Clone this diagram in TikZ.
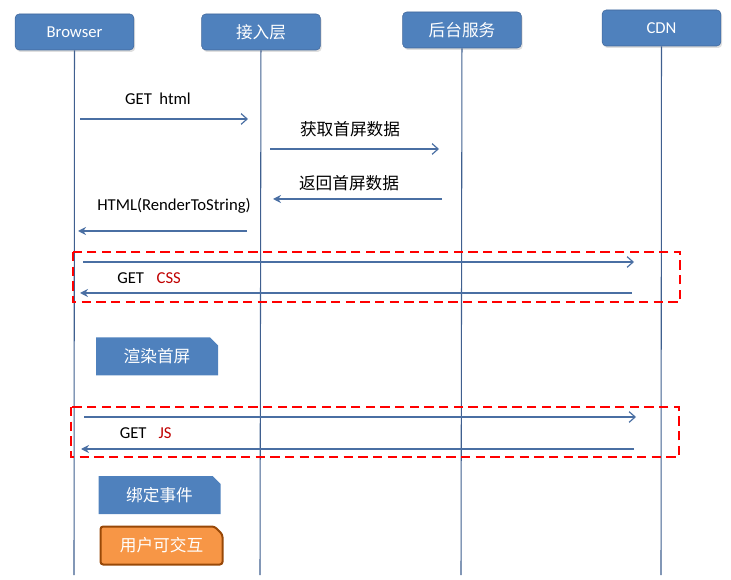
\documentclass[tikz,border=0pt]{standalone}
\usepackage{fontspec}
\setmainfont{Carlito}
\newfontfamily\cjk{Noto Sans CJK SC}
\usepackage{tikz}
\usetikzlibrary{arrows.meta,shapes.misc,shadows}
\definecolor{headblue}{HTML}{4F81BD}
\definecolor{headline}{HTML}{41679A}
\definecolor{lifeblue}{HTML}{3F5F8F}
\definecolor{msgblue}{HTML}{4A6FA3}
\definecolor{actorange}{HTML}{F79646}
\definecolor{actbrown}{HTML}{984807}
\definecolor{resred}{HTML}{C00000}

\begin{document}
    \begin{tikzpicture}[x=0.75pt,y=-0.75pt,
        every node/.style={font=\fontsize{12.5}{15}\selectfont},
        actor/.style={draw=headline,fill=headblue,text=white,rounded corners=3pt,
            minimum width=89pt,minimum height=27pt,inner sep=0pt,
            drop shadow={opacity=0.25,shadow xshift=1pt,shadow yshift=-1.5pt}},
        lifeline/.style={draw=lifeblue,line width=0.8pt},
        callmsg/.style={draw=msgblue,line width=0.9pt,-{Straight Barb[length=4.5pt,width=8pt]}},
        backmsg/.style={draw=msgblue,line width=0.9pt,-{Stealth[length=6pt,width=6pt]}},
        fetchbox/.style={draw=red,dash pattern=on 7pt off 4pt,line width=1.1pt},
        stepnote/.style={chamfered rectangle,chamfered rectangle corners=north east,
            chamfered rectangle xsep=3pt,chamfered rectangle ysep=3pt,
            fill=headblue,text=white,minimum width=91.5pt,minimum height=28.5pt,inner sep=0pt},
        donenote/.style={stepnote,fill=actorange,draw=actbrown,line width=1.5pt,rounded corners=2pt}]
        \useasboundingbox (0,0) rectangle (731,580);
        \node[actor] (browser) at (74.5,32) {Browser};
        \node[actor] (access) at (261,32) {\cjk 接入层};
        \node[actor] (backend) at (462,30) {\cjk 后台服务};
        \node[actor] (cdn) at (661.5,28) {CDN};
        \coordinate (browserend) at (74,575);
        \coordinate (accessend) at (260,575);
        \coordinate (backendend) at (461,575);
        \coordinate (cdnend) at (661,575);
        \draw[lifeline] (browser) -- (browserend);
        \draw[lifeline] (access) -- (accessend);
        \draw[lifeline] (backend) -- (backendend);
        \draw[lifeline] (cdn) -- (cdnend);
        \coordinate (htmlout) at (80,119);
        \coordinate (htmlin) at (248,119);
        \draw[callmsg] (htmlout) -- (htmlin);
        \node (htmltxt) at (158,99) {GET\ \ html};
        \coordinate (dataout) at (270,149);
        \coordinate (datain) at (439,149);
        \draw[callmsg] (dataout) -- (datain);
        \node (datatxt) at (350,129) {\cjk 获取首屏数据};
        \coordinate (databack) at (442,199);
        \coordinate (datagot) at (273,199);
        \draw[backmsg] (databack) -- (datagot);
        \node (backtxt) at (349,183) {\cjk 返回首屏数据};
        \coordinate (pageback) at (247,231);
        \coordinate (pagegot) at (78,231);
        \draw[backmsg] (pageback) -- (pagegot);
        \node (pagetxt) at (174,206) {HTML(RenderToString)};
        \draw[fetchbox] (73,252) rectangle (680,302);
        \coordinate (cssout) at (83,262);
        \coordinate (cssin) at (634,262);
        \coordinate (cssback) at (632,293);
        \coordinate (cssgot) at (80,293);
        \draw[callmsg] (cssout) -- (cssin);
        \draw[backmsg] (cssback) -- (cssgot);
        \node[anchor=west,inner sep=0pt] (csstxt) at (117,278) {GET\hspace{9.5pt}\textcolor{resred}{CSS}};
        \node[stepnote] (render) at (157,356.5) {\cjk 渲染首屏};
        \draw[fetchbox] (71,407) rectangle (679,457);
        \coordinate (jsout) at (84,417);
        \coordinate (jsin) at (636,417);
        \coordinate (jsback) at (634,449);
        \coordinate (jsgot) at (81,449);
        \draw[callmsg] (jsout) -- (jsin);
        \draw[backmsg] (jsback) -- (jsgot);
        \node[anchor=west,inner sep=0pt] (jstxt) at (119.5,433) {GET\hspace{9pt}\textcolor{resred}{JS}};
        \node[stepnote] (bind) at (159.5,495) {\cjk 绑定事件};
        \node[donenote] (ready) at (161.5,545.5) {\cjk 用户可交互};
    \end{tikzpicture}
\end{document}
